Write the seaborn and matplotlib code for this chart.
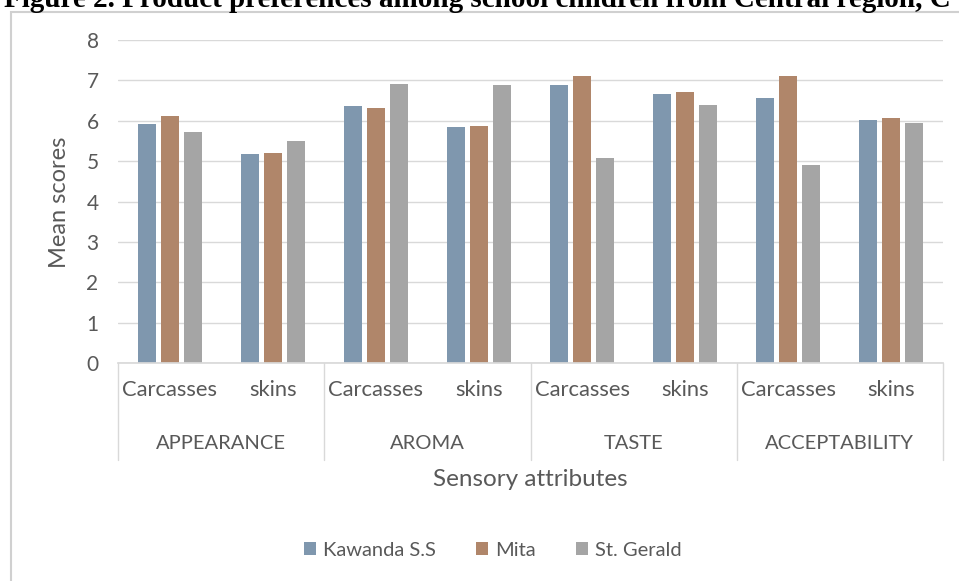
import numpy as np
import pandas as pd
import seaborn as sns
import matplotlib.pyplot as plt
from matplotlib.patches import Patch, Rectangle
from matplotlib.transforms import blended_transform_factory

attributes = ["APPEARANCE", "AROMA", "TASTE", "ACCEPTABILITY"]
products = ["Carcasses", "skins"]
schools = ["Kawanda S.S", "Mita", "St. Gerald"]

kawanda = [5.91, 5.17, 6.36, 5.85, 6.89, 6.66, 6.56, 6.01]
mita = [6.13, 5.20, 6.32, 5.88, 7.10, 6.72, 7.10, 6.07]
st_gerald = [5.73, 5.51, 6.92, 6.89, 5.07, 6.39, 4.90, 5.94]

colors = ["#7f97ae", "#b0866a", "#a5a5a5"]
txt = "#595959"

positions = [f"{a}|{p}" for a in attributes for p in products]
df = pd.DataFrame({
    "pos": positions * 3,
    "school": np.repeat(schools, len(positions)),
    "score": kawanda + mita + st_gerald,
})

sns.set_theme(style="white")
plt.rcParams["font.family"] = ["Lato", "DejaVu Sans"]

fig = plt.figure(figsize=(9.59, 5.81), dpi=100)
ax = fig.add_axes([118 / 959, 1 - 363 / 581, (943 - 118) / 959, (363 - 40) / 581])

sns.barplot(data=df, x="pos", y="score", hue="school", order=positions,
            hue_order=schools, palette=colors, width=0.67, gap=0.22,
            linewidth=0, saturation=1, legend=False, ax=ax)

ax.set_xlim(-0.5, len(positions) - 0.5)
ax.set_ylim(0, 8)
ax.set_yticks(range(0, 9))
ax.yaxis.grid(True, color="#d9d9d9", lw=1)
ax.set_axisbelow(True)
for s in ["top", "right", "left"]:
    ax.spines[s].set_visible(False)
ax.spines["bottom"].set_color("#d9d9d9")
ax.tick_params(axis="y", length=0, pad=14, labelsize=15, labelcolor=txt)
ax.set_xticks(range(len(positions)))
ax.set_xticklabels(products * len(attributes))
ax.tick_params(axis="x", length=0, pad=12, labelsize=15.8, labelcolor=txt)
ax.set_xlabel("")
ax.set_ylabel("")

trans = blended_transform_factory(ax.transData, ax.transAxes)
for i, a in enumerate(attributes):
    ax.text(2 * i + 0.5, -0.248, a, transform=trans, ha="center", va="center",
            fontsize=14.5, color=txt)
for b in np.arange(-0.5, len(positions), 2):
    ax.plot([b, b], [0, -0.30], transform=trans, color="#d9d9d9", lw=1,
            clip_on=False)

fig.text(530.5 / 959, 1 - 480 / 581, "Sensory attributes", ha="center",
         va="center", fontsize=17.5, color=txt)
fig.text(60 / 959, 1 - 202 / 581, "Mean scores", ha="center", va="center",
         rotation=90, fontsize=17, color=txt)

fig.patches.append(Rectangle((11 / 959, -0.01), 1.0, 1 - 12 / 581 + 0.01,
                             transform=fig.transFigure, fill=False,
                             edgecolor="#d0d0d0", lw=1.5))

# the source figure caption is cropped at the top edge of the image
fig.text(4 / 959, 1 - 7 / 581,
         "Figure 2. Product preferences among school children from Central region, C",
         ha="left", va="baseline", fontsize=21, fontweight="bold",
         family="Liberation Serif", color="black")

handles = [Patch(facecolor=c, edgecolor="none") for c in colors]
fig.legend(handles, schools, loc="center", bbox_to_anchor=(493 / 959, 1 - 550 / 581),
           ncol=3, frameon=False, fontsize=14.5, labelcolor=txt,
           handlelength=0.6, handleheight=0.6, handletextpad=0.35,
           columnspacing=2.0)

fig.savefig("out.png", dpi=100)
